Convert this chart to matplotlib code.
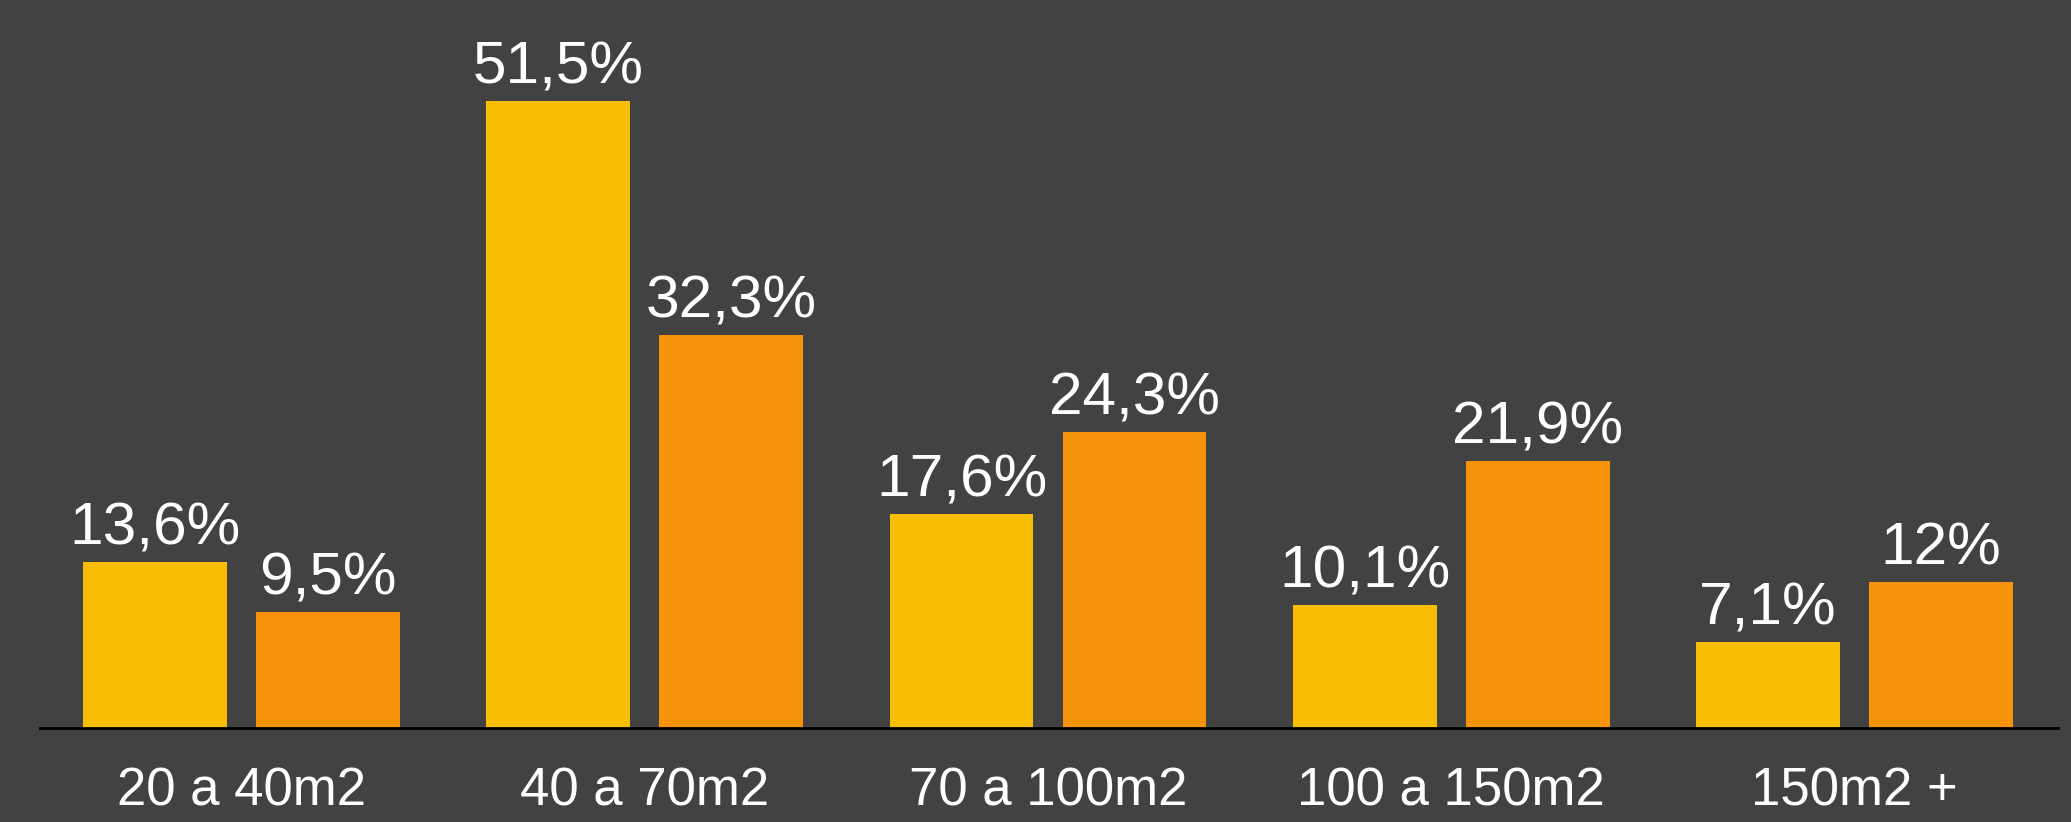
import matplotlib.pyplot as plt
import numpy as np

categories = ["20 a 40m2", "40 a 70m2", "70 a 100m2", "100 a 150m2", "150m2 +"]
serie_a = [13.6, 51.5, 17.6, 10.1, 7.1]
serie_b = [9.5, 32.3, 24.3, 21.9, 12]
labels_a = ["13,6%", "51,5%", "17,6%", "10,1%", "7,1%"]
labels_b = ["9,5%", "32,3%", "24,3%", "21,9%", "12%"]

plt.rcParams["font.family"] = ["Liberation Sans", "DejaVu Sans"]

bg = "#424242"
fig = plt.figure(figsize=(20.71, 8.22), dpi=100, facecolor=bg)
ax = fig.add_axes([40 / 2071, 94 / 822, 2018 / 2071, 728 / 822])
ax.set_facecolor(bg)

x = np.arange(len(categories))
w = 0.357
off = 0.2145
bars_a = ax.bar(x - off, serie_a, w, color="#F8BE03")
bars_b = ax.bar(x + off, serie_b, w, color="#F7930A")

ax.bar_label(bars_a, labels=labels_a, padding=4, color="white", fontsize=43.5)
ax.bar_label(bars_b, labels=labels_b, padding=4, color="white", fontsize=43.5)

ax.set_xlim(-0.5, 4.505)
ax.set_ylim(0, 59.8)
ax.set_xticks(x)
ax.set_xticklabels(categories, color="white", fontsize=38)
ax.tick_params(axis="x", length=0, pad=28)
ax.set_yticks([])
for s in ["top", "right", "left"]:
    ax.spines[s].set_visible(False)
ax.spines["bottom"].set_color("black")
ax.spines["bottom"].set_linewidth(2)

fig.savefig("out.png", dpi=100, facecolor=bg)
